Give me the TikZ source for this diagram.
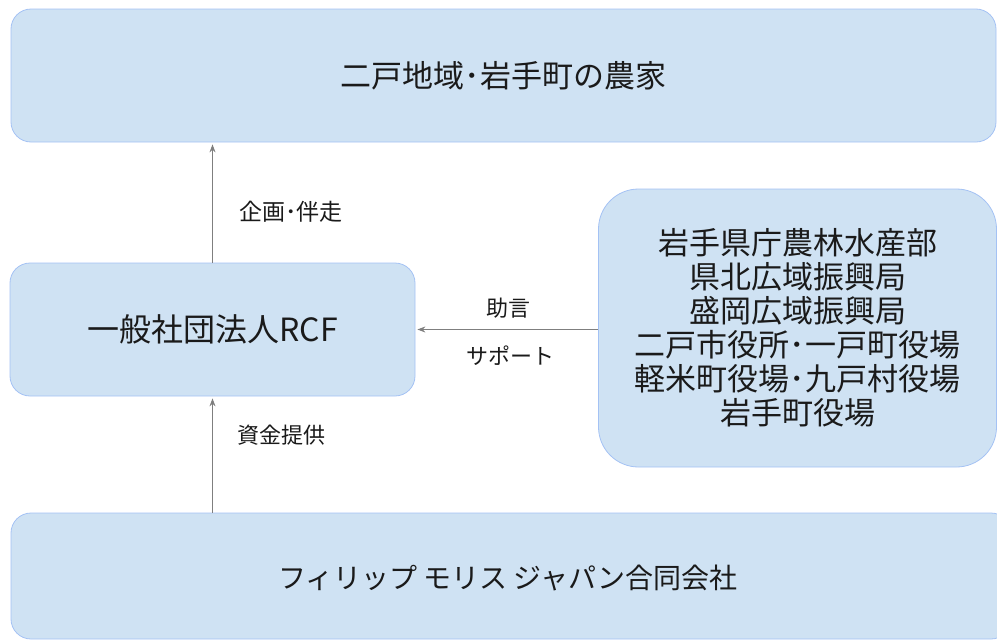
\documentclass[tikz,border=0pt]{standalone}
\usepackage{fontspec}
\setmainfont{Noto Sans CJK JP}
\usetikzlibrary{arrows.meta}
\definecolor{boxfill}{HTML}{CFE2F3}
\definecolor{boxline}{HTML}{A4C2F4}
\definecolor{arrowgray}{HTML}{7F7F7F}
\definecolor{txt}{HTML}{1A1A1A}
\tikzset{
  entity/.style={draw=boxline, fill=boxfill, line width=0.8pt, rounded corners=20pt,
    inner sep=0pt, text=txt, font=\fontsize{31}{34}\selectfont, align=center},
  flow/.style={draw=arrowgray, line width=1pt, -{Stealth[length=8pt,width=6pt]}, shorten >=2pt},
  flowlabel/.style={text=txt, font=\fontsize{22}{26}\selectfont, inner sep=0pt}
}
\begin{document}
\begin{tikzpicture}[x=1pt,y=-1pt]
\useasboundingbox (0,0) rectangle (997,640);
\clip (0,0) rectangle (997,640);
\node[entity, minimum width=985pt, minimum height=133pt] (farm) at (503.5,75.5) {二戸地域･岩手町の農家};
\node[entity, font=\fontsize{32}{36}\selectfont, minimum width=405pt, minimum height=133pt] (rcf) at (212.5,329.5) {一般社団法人RCF};
\node[entity, rounded corners=40pt, minimum width=398pt, minimum height=278pt] (gov) at (797.5,328) {岩手県庁農林水産部\\県北広域振興局\\盛岡広域振興局\\二戸市役所･一戸町役場\\軽米町役場･九戸村役場\\岩手町役場};
\node[entity, minimum width=1000pt, minimum height=126pt] (pmj) at (511,576) {};
\node[text=txt, font=\fontsize{28}{32}\selectfont, inner sep=0pt] (pmjtext) at (508,578) {フィリップ モリス ジャパン合同会社};
\draw[flow] (rcf.north) -- (rcf.north |- farm.south);
\draw[flow] (rcf.south |- pmj.north) -- (rcf.south);
\draw[flow] (gov.west |- rcf.east) -- (rcf.east);
\node[flowlabel, font=\fontsize{23}{26}\selectfont] (l1) at (291,212) {企画･伴走};
\node[flowlabel] (l2) at (508,308) {助言};
\node[flowlabel] (l3) at (510,356) {サポート};
\node[flowlabel] (l4) at (281,435) {資金提供};
\end{tikzpicture}
\end{document}
